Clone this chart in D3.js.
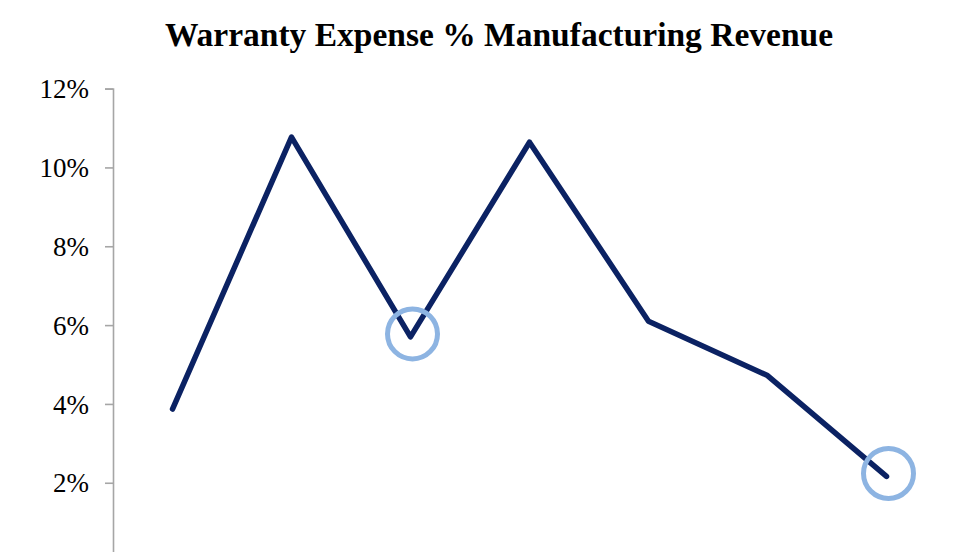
<!DOCTYPE html>
<html>
<head>
<meta charset="utf-8">
<script src="https://cdn.jsdelivr.net/npm/d3@7"></script>
<style>
html,body{margin:0;padding:0;background:#fff;overflow:hidden;}
svg{display:block;}
</style>
</head>
<body>
<svg id="chart" width="980" height="552"></svg>
<script>
const title = "Warranty Expense % Manufacturing Revenue";
const periods = ["P1","P2","P3","P4","P5","P6","P7"];
const warrantyPct = [3.87, 10.77, 5.70, 10.64, 6.10, 4.72, 2.16];
const highlighted = ["P3","P7"];
const yTicks = [0, 2, 4, 6, 8, 10, 12];

const svg = d3.select("#chart");

const x = d3.scaleBand().domain(periods).range([113, 946]).padding(0);
const y = d3.scaleLinear().domain([0, 12]).range([561.6, 88.6]);

svg.append("text")
  .attr("x", 499).attr("y", 46)
  .attr("text-anchor", "middle")
  .attr("font-family", "'Liberation Serif','Times New Roman',serif")
  .attr("font-weight", "bold")
  .attr("font-size", 33.5)
  .attr("fill", "#000")
  .text(title);

const yAxis = d3.axisLeft(y).tickValues(yTicks).tickSize(8).tickPadding(16)
  .tickFormat(d => d + "%");
const gy = svg.append("g").attr("transform", "translate(113,0)").call(yAxis);
gy.select(".domain").attr("stroke", "#a6a6a6").attr("stroke-width", 1.6);
gy.selectAll(".tick line").attr("stroke", "#a6a6a6").attr("stroke-width", 1.6);
gy.selectAll(".tick text")
  .attr("font-family", "'Liberation Serif','Times New Roman',serif")
  .attr("font-size", 27)
  .attr("fill", "#000")
  .attr("dy", "0.34em");

const cx = d => x(d) + x.bandwidth() / 2;
const line = d3.line().x((d, i) => cx(periods[i])).y(d => y(d));

svg.append("path")
  .datum(warrantyPct)
  .attr("d", line)
  .attr("fill", "none")
  .attr("stroke", "#0b2263")
  .attr("stroke-width", 5.5)
  .attr("stroke-linejoin", "round")
  .attr("stroke-linecap", "round");

svg.selectAll("circle.hl")
  .data(highlighted)
  .enter().append("circle")
  .attr("class", "hl")
  .attr("cx", d => cx(d) + 2)
  .attr("cy", d => y(warrantyPct[periods.indexOf(d)]) - 3)
  .attr("r", 25)
  .attr("fill", "none")
  .attr("stroke", "#8db4e2")
  .attr("stroke-width", 5);
</script>
</body>
</html>
